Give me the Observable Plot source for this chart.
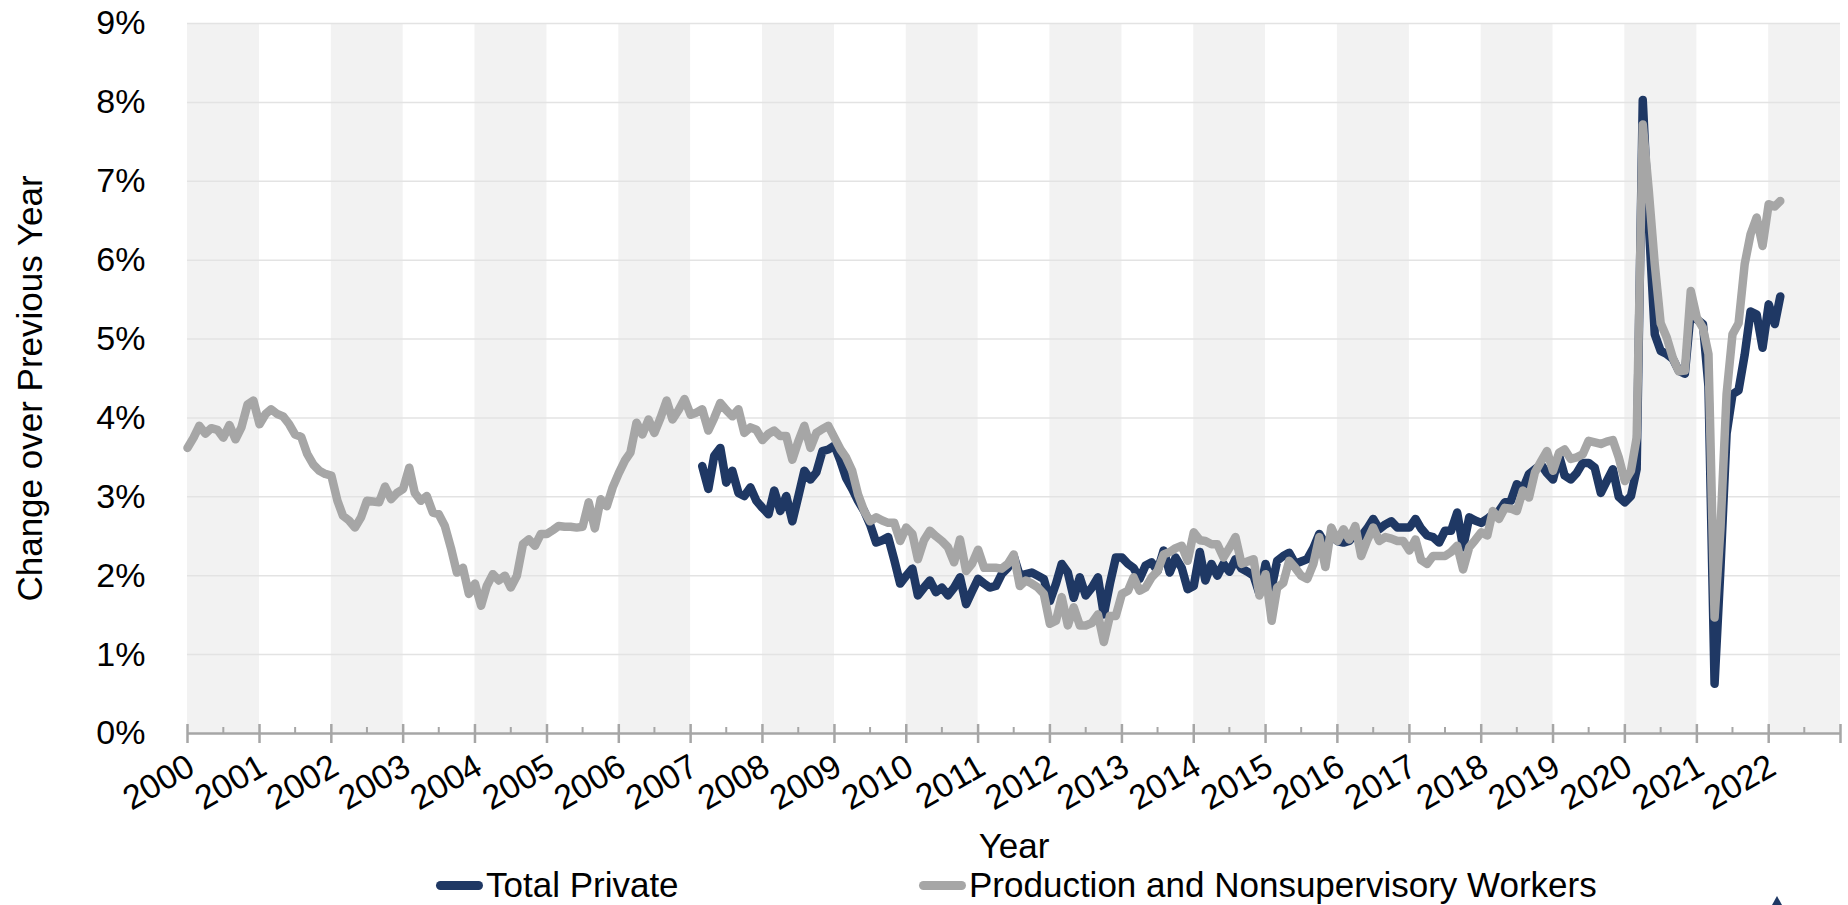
<!DOCTYPE html>
<html>
<head>
<meta charset="utf-8">
<script src="https://cdn.jsdelivr.net/npm/d3@7"></script>
<script src="https://cdn.jsdelivr.net/npm/@observablehq/plot@0.6"></script>
<style>
  body { margin: 0; background: #fff; font-family: "Liberation Sans", Arial, sans-serif; }
  #chart svg { display: block; }
  #legend { position: relative; width: 1848px; height: 40px; font-size: 35px; color: #000; overflow: hidden; }
  #legend .sw { position: absolute; top: 16px; width: 47px; height: 9px; border-radius: 5px; }
  #legend .lbl { position: absolute; top: 0; line-height: 40px; white-space: nowrap; }
  #legend .logo { position: absolute; left: 1772px; top: 31px; width: 0; height: 0;
    border-left: 5px solid transparent; border-right: 5px solid transparent; border-bottom: 9px solid #1f3864; }
</style>
</head>
<body>
<div id="chart"></div>
<div id="legend"></div>
<script>
// ---- Data (12-month % change in average hourly earnings, monthly) ----
const seriesNames = ["Total Private", "Production and Nonsupervisory Workers"];
const seriesColors = ["#1f3864", "#a6a6a6"];

const privateStart = "2007-03";
const totalPrivate = [
  /*2007*/ 3.39, 3.1, 3.52, 3.62, 3.18, 3.33, 3.05, 3.01, 3.12, 2.95,
  /*2008*/ 2.86, 2.78, 3.08, 2.82, 3.01, 2.69, 3.0, 3.33, 3.22, 3.31, 3.58, 3.6,
  /*2009*/ 3.65, 3.45, 3.24, 3.1, 2.95, 2.82, 2.65, 2.42, 2.45, 2.49, 2.2, 1.9,
  /*2010*/ 2.0, 2.09, 1.75, 1.85, 1.94, 1.79, 1.85, 1.75, 1.85, 1.98, 1.64, 1.8,
  /*2011*/ 1.96, 1.9, 1.85, 1.87, 2.02, 2.1, 2.25, 2.0, 2.02, 2.04, 2.0, 1.96,
  /*2012*/ 1.68, 1.9, 2.15, 2.04, 1.72, 1.98, 1.75, 1.85, 1.98, 1.51, 1.9, 2.23,
  /*2013*/ 2.23, 2.15, 2.1, 1.96, 2.13, 2.17, 2.06, 2.32, 2.04, 2.23, 2.1, 1.83,
  /*2014*/ 1.87, 2.3, 1.94, 2.15, 2.0, 2.15, 2.05, 2.21, 2.09, 2.05, 2.0, 1.77,
  /*2015*/ 2.15, 1.85, 2.19, 2.25, 2.29, 2.15, 2.18, 2.21, 2.35, 2.53, 2.4, 2.5,
  /*2016*/ 2.44, 2.42, 2.44, 2.53, 2.5, 2.6, 2.72, 2.59, 2.65, 2.69, 2.61, 2.61,
  /*2017*/ 2.61, 2.72, 2.6, 2.51, 2.49, 2.42, 2.57, 2.57, 2.8, 2.36, 2.74, 2.7,
  /*2018*/ 2.67, 2.72, 2.78, 2.82, 2.93, 2.95, 3.16, 3.1, 3.29, 3.35, 3.41, 3.3,
  /*2019*/ 3.22, 3.52, 3.27, 3.22, 3.3, 3.43, 3.43, 3.37, 3.05, 3.2, 3.35, 3.0,
  /*2020*/ 2.93, 3.01, 3.35, 8.03, 6.5, 5.06, 4.85, 4.81, 4.75, 4.6, 4.56, 5.35,
  /*2021*/ 5.25, 5.19, 4.4, 0.63, 2.1, 3.8, 4.3, 4.35, 4.8, 5.35, 5.31, 4.89,
  /*2022*/ 5.44, 5.19, 5.54
];

const prodStart = "2000-01";
const prodWorkers = [
  /*2000*/ 3.62, 3.75, 3.9, 3.8, 3.87, 3.85, 3.75, 3.91, 3.73, 3.88, 4.17, 4.22,
  /*2001*/ 3.92, 4.05, 4.11, 4.05, 4.02, 3.92, 3.79, 3.76, 3.54, 3.41, 3.33, 3.29,
  /*2002*/ 3.27, 2.95, 2.76, 2.7, 2.61, 2.74, 2.95, 2.94, 2.93, 3.13, 2.97, 3.05,
  /*2003*/ 3.1, 3.37, 3.05, 2.95, 3.01, 2.8, 2.78, 2.63, 2.35, 2.04, 2.1, 1.77,
  /*2004*/ 1.9, 1.62, 1.87, 2.02, 1.94, 2.0, 1.85, 2.0, 2.4, 2.46, 2.38, 2.53,
  /*2005*/ 2.53, 2.58, 2.63, 2.62, 2.62, 2.61, 2.62, 2.93, 2.6, 2.97, 2.88, 3.12,
  /*2006*/ 3.3, 3.46, 3.56, 3.94, 3.79, 3.98, 3.81, 4.0, 4.22, 3.98, 4.1, 4.24,
  /*2007*/ 4.04, 4.07, 4.11, 3.84, 4.0, 4.19, 4.1, 4.02, 4.11, 3.81, 3.88, 3.85,
  /*2008*/ 3.72, 3.8, 3.84, 3.77, 3.77, 3.47, 3.7, 3.9, 3.62, 3.81, 3.86, 3.9,
  /*2009*/ 3.75, 3.6, 3.5, 3.33, 3.03, 2.82, 2.69, 2.74, 2.7, 2.67, 2.67, 2.44,
  /*2010*/ 2.61, 2.53, 2.21, 2.45, 2.57, 2.5, 2.44, 2.36, 2.17, 2.46, 2.06, 2.15,
  /*2011*/ 2.33, 2.1, 2.1, 2.1, 2.09, 2.15, 2.27, 1.87, 1.94, 1.9, 1.85, 1.77,
  /*2012*/ 1.39, 1.43, 1.73, 1.37, 1.6, 1.37, 1.37, 1.4, 1.51, 1.16, 1.49, 1.49,
  /*2013*/ 1.77, 1.81, 1.98, 1.81, 1.85, 1.98, 2.06, 2.27, 2.3, 2.35, 2.38, 2.19,
  /*2014*/ 2.55, 2.45, 2.44, 2.4, 2.4, 2.23, 2.35, 2.49, 2.15, 2.18, 2.21, 1.75,
  /*2015*/ 2.02, 1.43, 1.85, 1.91, 2.19, 2.1, 2.0, 1.96, 2.15, 2.49, 2.11, 2.61,
  /*2016*/ 2.44, 2.59, 2.46, 2.63, 2.25, 2.45, 2.61, 2.44, 2.49, 2.47, 2.44, 2.44,
  /*2017*/ 2.32, 2.46, 2.2, 2.15, 2.25, 2.25, 2.25, 2.3, 2.38, 2.08, 2.36, 2.45,
  /*2018*/ 2.55, 2.51, 2.82, 2.72, 2.86, 2.85, 2.82, 3.08, 2.99, 3.31, 3.45, 3.58,
  /*2019*/ 3.33, 3.56, 3.6, 3.48, 3.5, 3.54, 3.71, 3.69, 3.67, 3.7, 3.72, 3.5,
  /*2020*/ 3.2, 3.33, 3.75, 7.72, 6.9, 5.95, 5.2, 5.02, 4.76, 4.59, 4.6, 5.61,
  /*2021*/ 5.27, 5.14, 4.81, 1.47, 2.6, 4.3, 5.06, 5.2, 5.95, 6.33, 6.54, 6.18,
  /*2022*/ 6.71, 6.68, 6.75
];

const yTicks = [0, 1, 2, 3, 4, 5, 6, 7, 8, 9];
const yearLabels = d3.range(2000, 2023);   // tick labels 2000..2022
const xDomainYears = [2000, 2023];
const xTitle = "Year";
const yTitle = "Change over Previous Year";

// ---- Build tables ----
const parseMonth = d3.utcParse("%Y-%m");
const toRows = (start, values, name) => {
  const s = parseMonth(start);
  return values.map((v, i) => ({ date: d3.utcMonth.offset(s, i), value: v, series: name }));
};
const privRows = toRows(privateStart, totalPrivate, seriesNames[0]);
const prodRows = toRows(prodStart, prodWorkers, seriesNames[1]);

const yd = y => new Date(Date.UTC(y, 0, 1));
const bands = d3.range(xDomainYears[0], xDomainYears[1], 2).map(y => ({ start: yd(y), end: yd(y + 1) }));
const majorDates = d3.range(xDomainYears[0], xDomainYears[1] + 1).map(yd);
const minorDates = d3.range(xDomainYears[0], xDomainYears[1]).map(y => new Date(Date.UTC(y, 6, 1)));

// ---- Layout ----
const W = 1848, H = 865, mL = 187, mR = 8, mT = 23, mB = 132;
const frameH = H - mT - mB;
const axisGrey = "#a6a6a6";

const chart = Plot.plot({
  width: W, height: H,
  marginLeft: mL, marginRight: mR, marginTop: mT, marginBottom: mB,
  style: { fontFamily: "Liberation Sans, Arial, sans-serif", fontSize: "34px", color: "#000", background: "#fff", overflow: "visible" },
  x: { type: "utc", domain: [yd(xDomainYears[0]), yd(xDomainYears[1])], axis: null },
  y: { domain: [yTicks[0], yTicks[yTicks.length - 1]], axis: null },
  marks: [
    Plot.rect(bands, { x1: "start", x2: "end", fill: "#f2f2f2" }),
    Plot.ruleY(yTicks.slice(1), { stroke: "#e3e3e3", strokeWidth: 1.5 }),
    Plot.text(yTicks, { y: d => d, text: d => d + "%", frameAnchor: "left", textAnchor: "end", dx: -42, fontSize: 34, fill: "#000" }),
    Plot.ruleY([0], { stroke: axisGrey, strokeWidth: 2.5 }),
    Plot.ruleX(majorDates, { x: d => d, insetTop: frameH - 9, insetBottom: -10, stroke: axisGrey, strokeWidth: 2.5 }),
    Plot.ruleX(minorDates, { x: d => d, insetTop: frameH - 6, stroke: axisGrey, strokeWidth: 2 }),
    Plot.text(yearLabels, { x: yd, text: d => String(d), frameAnchor: "bottom", rotate: -30, textAnchor: "end", lineAnchor: "middle", dx: 4, dy: 30, fontSize: 34, fill: "#000" }),
    Plot.line(privRows, { x: "date", y: "value", stroke: seriesColors[0], strokeWidth: 8.5, strokeLinejoin: "round", strokeLinecap: "round" }),
    Plot.line(prodRows, { x: "date", y: "value", stroke: seriesColors[1], strokeWidth: 8.5, strokeLinejoin: "round", strokeLinecap: "round" }),
    Plot.text([xTitle], { frameAnchor: "bottom", textAnchor: "middle", lineAnchor: "middle", dy: 113, fontSize: 35, fill: "#000" }),
    Plot.text([yTitle], { frameAnchor: "left", textAnchor: "middle", rotate: -90, dx: -157, dy: 10, fontSize: 35, fill: "#000" })
  ]
});
document.getElementById("chart").appendChild(chart);

// ---- Legend (below the SVG) ----
const legend = d3.select("#legend");
const legendPos = [{ sw: 436, lbl: 486 }, { sw: 919, lbl: 969 }];
seriesNames.forEach((name, i) => {
  legend.append("div").attr("class", "sw").style("left", legendPos[i].sw + "px").style("background", seriesColors[i]);
  legend.append("div").attr("class", "lbl").style("left", legendPos[i].lbl + "px").text(name);
});
legend.append("div").attr("class", "logo");
</script>
</body>
</html>
